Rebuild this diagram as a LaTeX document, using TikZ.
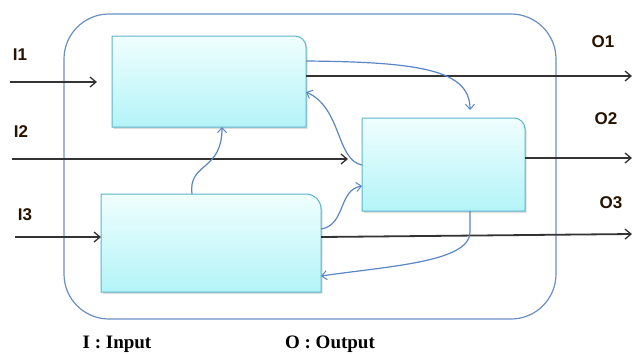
\documentclass[tikz,border=0pt]{standalone}
\usepackage{fontspec}
\setmainfont{Liberation Serif}
\setsansfont{Liberation Sans}
\usetikzlibrary{arrows.meta,calc}
\definecolor{boxtop}{HTML}{F0FEFE}
\definecolor{boxbot}{HTML}{B3F4F8}
\definecolor{boxline}{HTML}{5CB5CB}
\definecolor{outerline}{HTML}{6A8FC6}
\definecolor{flow}{HTML}{5A86C5}
\definecolor{blk}{HTML}{333333}
\tikzset{
  anchorbox/.style={inner sep=0pt, outer sep=0pt},
  blkarrow/.style={draw=blk, line width=1.8pt, -{Straight Barb[length=6pt,width=10pt,line width=1.3pt]}},
  flowarrow/.style={draw=flow, line width=1.2pt, -{Straight Barb[length=5pt,width=9pt,line width=1pt]}},
  iolabel/.style={font=\sffamily\bfseries\fontsize{17}{19}\selectfont, text=black!85!orange, inner sep=0pt},
  legend/.style={font=\rmfamily\bfseries\fontsize{19}{21}\selectfont, text=black, inner sep=0pt},
}
\newcommand{\cbox}[2]{% node name, corner radius
  \fill[gray!45, opacity=0.6] ([shift={(1.5pt,-2pt)}]#1.south west) -- ([shift={(1.5pt,-2pt)}]#1.north west) [rounded corners=#2] -- ([shift={(1.5pt,-2pt)}]#1.north east) [sharp corners] -- ([shift={(1.5pt,-2pt)}]#1.south east) -- cycle;
  \shade[top color=boxtop, bottom color=boxbot] (#1.south west) -- (#1.north west) [rounded corners=#2] -- (#1.north east) [sharp corners] -- (#1.south east) -- cycle;
  \draw[boxline, line width=1pt] (#1.south west) -- (#1.north west) [rounded corners=#2] -- (#1.north east) [sharp corners] -- (#1.south east) -- cycle;
}
\begin{document}
\begin{tikzpicture}[x=1pt,y=-1pt]
\useasboundingbox (0,0) rectangle (636,354);
% outer frame
\draw[outerline, line width=1.2pt, rounded corners=45pt] (64,14) rectangle (556,319);
% boxes
\node[anchorbox, minimum width=194pt, minimum height=91pt] (A) at (209,81.5) {};
\node[anchorbox, minimum width=163pt, minimum height=93pt] (B) at (443.5,164.5) {};
\node[anchorbox, minimum width=220pt, minimum height=98pt] (C) at (211,243) {};
\cbox{A}{11pt}
\cbox{B}{11pt}
\cbox{C}{15pt}
% coordinates for free ends
\coordinate (i1s) at (10,82);
\coordinate (i1e) at (97,82);
\coordinate (i2s) at (12,159);
\coordinate (i2e) at (348,159);
\coordinate (i3s) at (15,237);
\coordinate (o1e) at (632,76);
\coordinate (o2e) at (632,158);
\coordinate (o3e) at (632,234);
% black arrows
\draw[blkarrow] (i1s) -- (i1e);
\draw[blkarrow] (i2s) -- (i2e);
\draw[blkarrow] (i3s) -- (C.west |- i3s);
\draw[blkarrow] (A.east |- o1e) -- (o1e);
\draw[blkarrow] (B.east |- o2e) -- (o2e);
\draw[blkarrow] (C.east |- 0,237) -- (o3e);
% blue flows
\coordinate (a1) at (A.east |- 0,61);
\coordinate (b1) at (470,110);
\draw[flowarrow] (a1) .. controls (420,62) and (470,70) .. (b1);
\coordinate (b2) at (B.west |- 0,165);
\coordinate (a2) at (A.east |- 0,92);
\draw[flowarrow] (b2) .. controls (336,160) and (342,108) .. (a2);
\coordinate (c3) at (192,0 |- C.north);
\coordinate (a3) at (222,0 |- A.south);
\draw[flowarrow] (c3) .. controls (188,162) and (222,172) .. (a3);
\coordinate (c4) at (C.east |- 0,229);
\coordinate (b4) at (B.west |- 0,186);
\draw[flowarrow] (c4) .. controls (346,225) and (338,190) .. (b4);
\coordinate (b5) at (470,0 |- B.south);
\coordinate (c5) at (C.east |- 0,276);
\draw[flowarrow] (b5) -- (470,232) .. controls (470,262) and (390,266) .. (c5);
% labels
\node[iolabel] (l1) at (20,55) {I1};
\node[iolabel] (l2) at (21,132) {I2};
\node[iolabel] (l3) at (25,215) {I3};
\node[iolabel] (lo1) at (603,42) {O1};
\node[iolabel] (lo2) at (606,119) {O2};
\node[iolabel] (lo3) at (611,203) {O3};
\node[legend] (legI) at (117,344) {I : Input};
\node[legend] (legO) at (330,344) {O : Output};
\end{tikzpicture}
\end{document}
